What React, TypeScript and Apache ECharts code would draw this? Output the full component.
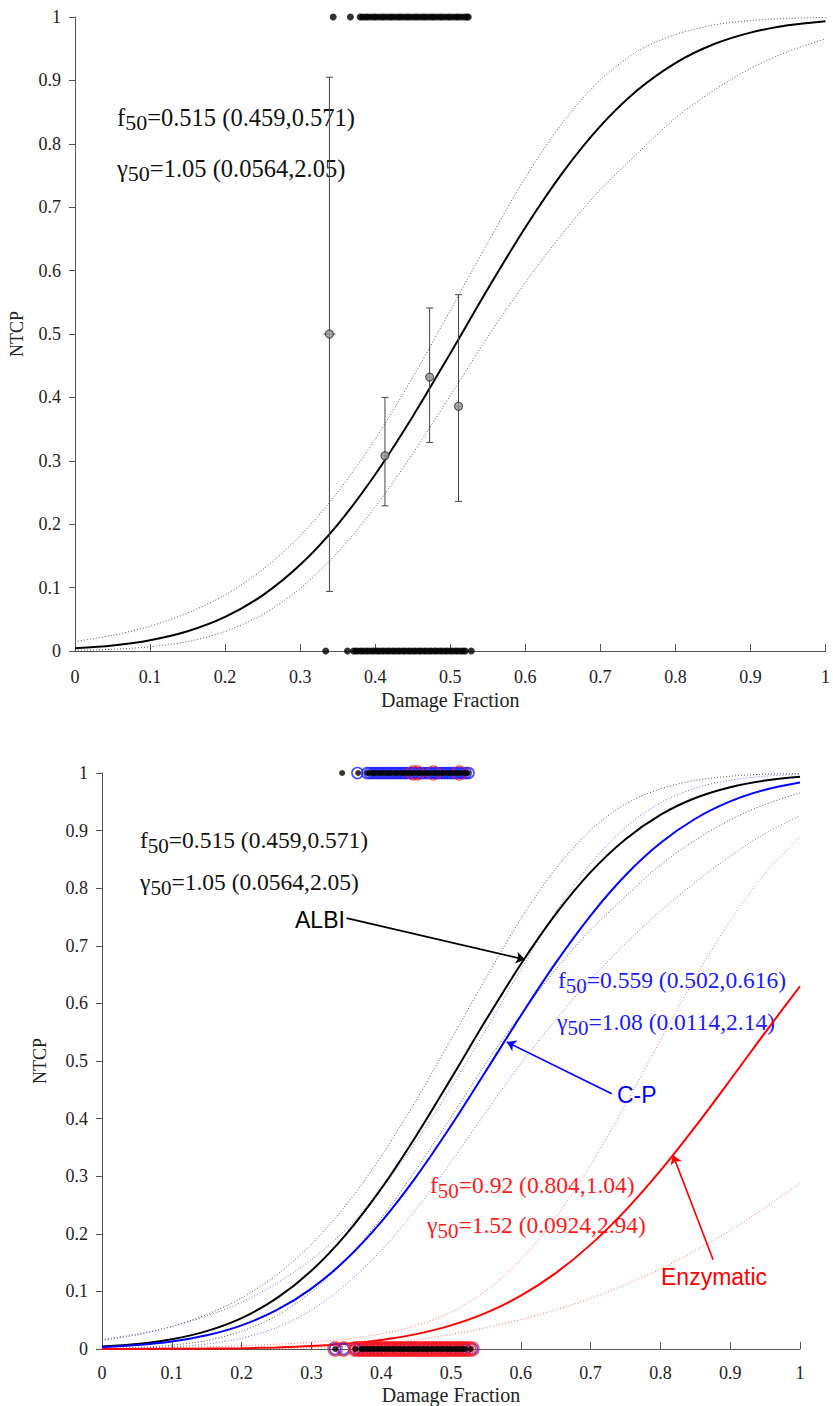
import React, { useEffect, useRef } from "react";
import * as echarts from "echarts";

// ---- data ----
const F_GRID = [0, 0.05, 0.1, 0.15, 0.2, 0.25, 0.3, 0.35, 0.4, 0.45, 0.5, 0.55, 0.6, 0.65, 0.7, 0.75, 0.8, 0.85, 0.9, 0.95, 1];

const ALBI_FIT = [0.0042, 0.0087, 0.017, 0.0311, 0.0537, 0.0878, 0.1359, 0.1995, 0.2784, 0.3699, 0.4694, 0.571, 0.668, 0.7549, 0.8278, 0.8851, 0.9274, 0.9566, 0.9754, 0.9869, 0.9934];
const ALBI_UPPER = [0.0149, 0.0246, 0.0391, 0.0599, 0.0885, 0.1283, 0.1817, 0.2504, 0.3344, 0.4316, 0.5372, 0.6439, 0.7468, 0.834, 0.9007, 0.9464, 0.9723, 0.9872, 0.9944, 0.9978, 0.9992];
const ALBI_LOWER = [0.001, 0.0027, 0.0066, 0.0148, 0.0308, 0.0577, 0.0987, 0.1555, 0.2273, 0.3113, 0.4026, 0.4956, 0.581, 0.6591, 0.7276, 0.7855, 0.8405, 0.8834, 0.9189, 0.9455, 0.9655];

const CP_FIT = [0.0034, 0.0069, 0.0131, 0.0238, 0.0411, 0.0673, 0.1049, 0.1557, 0.2207, 0.2988, 0.3875, 0.4826, 0.5787, 0.6703, 0.7526, 0.8225, 0.8784, 0.9206, 0.9507, 0.9709, 0.9836];
const CP_UPPER = [0.0167, 0.0259, 0.039, 0.057, 0.081, 0.1138, 0.1552, 0.2084, 0.2776, 0.3602, 0.4539, 0.5542, 0.6585, 0.7583, 0.842, 0.9057, 0.9481, 0.9738, 0.9875, 0.9944, 0.9976];
const CP_LOWER = [0.0005, 0.0014, 0.0037, 0.0086, 0.0188, 0.037, 0.0676, 0.1127, 0.1711, 0.2426, 0.3243, 0.4115, 0.4954, 0.5717, 0.6416, 0.7036, 0.7603, 0.8104, 0.8557, 0.895, 0.9259];

const ENZ_FIT = [0.0001, 0.0002, 0.0003, 0.0007, 0.0014, 0.0028, 0.0051, 0.0091, 0.0157, 0.0258, 0.041, 0.0627, 0.0926, 0.1318, 0.1812, 0.2407, 0.3096, 0.386, 0.467, 0.5494, 0.6298];
const ENZ_UPPER = [0.0011, 0.0016, 0.0025, 0.0037, 0.0056, 0.0082, 0.012, 0.0176, 0.0263, 0.0404, 0.0637, 0.1008, 0.155, 0.2281, 0.3195, 0.4247, 0.5359, 0.6451, 0.7435, 0.8257, 0.889];
const ENZ_LOWER = [0.0, 0.0, 0.0, 0.0001, 0.0003, 0.0008, 0.002, 0.0045, 0.0089, 0.0159, 0.0253, 0.037, 0.051, 0.068, 0.088, 0.1116, 0.1392, 0.1706, 0.2062, 0.2455, 0.2882];

// binned observed rates with error bars (top panel)
const BIN_X = [0.339, 0.413, 0.4725, 0.511];
const BIN_Y = [0.5, 0.308, 0.432, 0.386];
const BIN_LO = [0.094, 0.229, 0.329, 0.236];
const BIN_HI = [0.905, 0.4, 0.541, 0.562];
const BIN_XERR = [0.008, 0.004, 0.003, 0.003];

// individual patients (damage fraction), complication = 1 / no complication = 0
const ALBI_EVENT_X = [0.344, 0.367, 0.38, 0.383, 0.387, 0.39, 0.394, 0.398, 0.401, 0.405, 0.409, 0.412, 0.416, 0.42, 0.423, 0.427, 0.431, 0.434, 0.438, 0.442, 0.445, 0.449, 0.453, 0.456, 0.46, 0.464, 0.467, 0.471, 0.475, 0.478, 0.482, 0.486, 0.489, 0.493, 0.497, 0.5, 0.504, 0.508, 0.511, 0.515, 0.519, 0.522, 0.524];
const ALBI_NOEVENT_X = [0.334, 0.363, 0.371, 0.374, 0.377, 0.381, 0.384, 0.388, 0.391, 0.395, 0.398, 0.402, 0.405, 0.409, 0.412, 0.416, 0.419, 0.423, 0.426, 0.43, 0.433, 0.437, 0.44, 0.444, 0.447, 0.451, 0.454, 0.458, 0.461, 0.465, 0.468, 0.472, 0.475, 0.479, 0.482, 0.486, 0.489, 0.493, 0.496, 0.5, 0.503, 0.507, 0.51, 0.514, 0.517, 0.52, 0.528];
const CP_EVENT_X = [0.366, 0.38, 0.384, 0.388, 0.392, 0.396, 0.399, 0.403, 0.407, 0.411, 0.415, 0.419, 0.422, 0.426, 0.43, 0.434, 0.438, 0.442, 0.446, 0.449, 0.453, 0.457, 0.461, 0.465, 0.469, 0.473, 0.477, 0.481, 0.485, 0.489, 0.493, 0.497, 0.501, 0.505, 0.509, 0.513, 0.517, 0.521, 0.525];
const CP_NOEVENT_X = [0.334, 0.346, 0.363, 0.368, 0.373, 0.379, 0.384, 0.39, 0.395, 0.401, 0.406, 0.412, 0.417, 0.423, 0.428, 0.434, 0.439, 0.445, 0.45, 0.456, 0.461, 0.467, 0.472, 0.478, 0.483, 0.489, 0.494, 0.5, 0.505, 0.511, 0.516, 0.521, 0.53];
const ENZ_EVENT_X = [0.446, 0.452, 0.475, 0.512];
const ENZ_NOEVENT_X = [0.334, 0.346, 0.363, 0.366, 0.369, 0.372, 0.375, 0.378, 0.381, 0.384, 0.387, 0.39, 0.393, 0.396, 0.399, 0.402, 0.405, 0.408, 0.411, 0.414, 0.417, 0.42, 0.423, 0.426, 0.429, 0.432, 0.435, 0.438, 0.441, 0.444, 0.447, 0.45, 0.453, 0.456, 0.459, 0.462, 0.465, 0.468, 0.471, 0.474, 0.477, 0.48, 0.483, 0.486, 0.489, 0.492, 0.495, 0.498, 0.501, 0.504, 0.507, 0.51, 0.513, 0.516, 0.519, 0.522, 0.525, 0.53];

// arrows: [from, to] in data coordinates
const ALBI_ARROW = [[0.3504, 0.748], [0.606, 0.676]];
const CP_ARROW = [[0.7303, 0.443], [0.58, 0.533]];
const ENZ_ARROW = [[0.8755, 0.155], [0.818, 0.337]];

const SERIF = "'Liberation Serif', 'Times New Roman', serif";
const SANS = "'Liberation Sans', Arial, sans-serif";

const pairs = (xs: number[], ys: number[]) => xs.map((x, i) => [x, ys[i]]);
const row = (xs: number[], y: number) => xs.map((x) => [x, y]);

function axisPair(gridIndex: number, labelMargin: number, xNameGap: number, yNameGap: number) {
  const common = {
    min: 0,
    max: 1,
    interval: 0.1,
    splitLine: { show: false },
    axisLine: { show: true, lineStyle: { color: "#555", width: 1 } },
  };
  const fmt = (v: number) => String(Math.round(v * 10) / 10);
  return {
    x: {
      ...common,
      type: "value",
      gridIndex,
      name: "Damage Fraction",
      nameLocation: "middle",
      nameGap: xNameGap,
      nameTextStyle: { fontFamily: SERIF, fontSize: 20, color: "#222" },
      axisTick: { show: true, inside: true, length: 7, lineStyle: { color: "#555" } },
      axisLabel: { fontFamily: SERIF, fontSize: 18, color: "#222", margin: labelMargin, formatter: fmt },
    },
    y: {
      ...common,
      type: "value",
      gridIndex,
      name: "NTCP",
      nameLocation: "middle",
      nameGap: yNameGap,
      nameTextStyle: { fontFamily: SERIF, fontSize: 18, color: "#222" },
      axisTick: { show: true, inside: false, length: 6, lineStyle: { color: "#555" } },
      axisLabel: { fontFamily: SERIF, fontSize: 18, color: "#222", margin: 14, formatter: fmt },
    },
  };
}

function curve(name: string, data: number[], color: string, dotted: boolean, idx: number, extra: any = {}) {
  return {
    name,
    type: "line",
    xAxisIndex: idx,
    yAxisIndex: idx,
    data: pairs(F_GRID, data),
    smooth: 0.3,
    showSymbol: false,
    symbol: "none",
    lineStyle: dotted ? { color, width: 1, type: [1, 2] } : { color, width: 2 },
    z: dotted ? 2 : 3,
    ...extra,
  };
}

function arrow(seg: number[][], color: string) {
  return {
    silent: true,
    animation: false,
    symbol: ["none", "arrow"],
    symbolSize: 9,
    label: { show: false },
    lineStyle: { color, width: 1.6, type: "solid" },
    data: [[{ coord: seg[0] }, { coord: seg[1] }]],
  };
}

function dots(xs: number[], y: number, idx: number, opts: any) {
  return {
    type: "scatter",
    xAxisIndex: idx,
    yAxisIndex: idx,
    data: row(xs, y),
    clip: false,
    symbol: "circle",
    ...opts,
  };
}

function fitText(x: number, yCenter: number, sym: string, rest: string, color: string, size: number) {
  return {
    type: "text",
    x,
    y: yCenter - 16,
    style: {
      text: `{m|${sym}}{s|50}{m|${rest}}`,
      fill: color,
      align: "left",
      verticalAlign: "top",
      textAlign: "left",
      textVerticalAlign: "top",
      rich: {
        m: { fontFamily: SERIF, fontSize: size, lineHeight: 32, verticalAlign: "middle", fill: color, color },
        s: { fontFamily: SERIF, fontSize: size - 2.5, lineHeight: 12, verticalAlign: "bottom", fill: color, color },
      },
    },
  };
}

function labelText(x: number, yCenter: number, text: string, color: string) {
  return {
    type: "text",
    x,
    y: yCenter,
    style: {
      text,
      fill: color,
      fontFamily: SANS,
      fontSize: 23,
      align: "left",
      verticalAlign: "middle",
      textAlign: "left",
      textVerticalAlign: "middle",
    },
  };
}

export default function App() {
  const ref = useRef<HTMLDivElement>(null);

  useEffect(() => {
    if (!ref.current) return;
    const chart = echarts.init(ref.current, null, { renderer: "svg" });
    const a0 = axisPair(0, 17, 39, 49);
    const a1 = axisPair(1, 15, 36, 53);

    const errorBars = {
      type: "custom",
      xAxisIndex: 0,
      yAxisIndex: 0,
      data: BIN_X.map((x, i) => [x, BIN_Y[i], BIN_LO[i], BIN_HI[i], BIN_XERR[i]]),
      encode: { x: 0, y: 1 },
      z: 4,
      renderItem: (params: any, api: any) => {
        const x = api.value(0);
        const y = api.value(1);
        const lo = api.coord([x, api.value(2)]);
        const hi = api.coord([x, api.value(3)]);
        const l = api.coord([x - api.value(4), y]);
        const r = api.coord([x + api.value(4), y]);
        const cap = 3.5;
        const style = { stroke: "#444", lineWidth: 1 };
        return {
          type: "group",
          children: [
            { type: "line", shape: { x1: lo[0], y1: lo[1], x2: hi[0], y2: hi[1] }, style },
            { type: "line", shape: { x1: lo[0] - cap, y1: lo[1], x2: lo[0] + cap, y2: lo[1] }, style },
            { type: "line", shape: { x1: hi[0] - cap, y1: hi[1], x2: hi[0] + cap, y2: hi[1] }, style },
            { type: "line", shape: { x1: l[0], y1: l[1], x2: r[0], y2: r[1] }, style },
          ],
        };
      },
    };

    const option: any = {
      animation: false,
      backgroundColor: "#fff",
      grid: [
        { left: 73, top: 17, width: 758, height: 634 },
        { left: 102, top: 773, width: 698, height: 576 },
      ],
      xAxis: [a0.x, a1.x],
      yAxis: [a0.y, a1.y],
      series: [
        // top panel
        curve("ALBI upper", ALBI_UPPER, "#555", true, 0),
        curve("ALBI lower", ALBI_LOWER, "#555", true, 0),
        curve("ALBI", ALBI_FIT, "#000", false, 0),
        errorBars,
        {
          type: "scatter",
          xAxisIndex: 0,
          yAxisIndex: 0,
          data: pairs(BIN_X, BIN_Y),
          symbol: "circle",
          symbolSize: 8,
          z: 5,
          itemStyle: { color: "#9a9a9a", borderColor: "#333", borderWidth: 1.2 },
        },
        dots(ALBI_EVENT_X, 1, 0, { symbolSize: 7, itemStyle: { color: "#000" }, z: 6 }),
        dots(ALBI_NOEVENT_X, 0, 0, { symbolSize: 7, itemStyle: { color: "#000" }, z: 6 }),

        // bottom panel
        curve("ALBI upper 2", ALBI_UPPER, "#555", true, 1),
        curve("ALBI lower 2", ALBI_LOWER, "#555", true, 1),
        curve("C-P upper", CP_UPPER, "#6a6aff", true, 1),
        curve("C-P lower", CP_LOWER, "#6a6aff", true, 1),
        curve("Enz upper", ENZ_UPPER, "#ff6a6a", true, 1),
        curve("Enz lower", ENZ_LOWER, "#ff6a6a", true, 1),
        curve("ALBI 2", ALBI_FIT, "#000", false, 1, { markLine: arrow(ALBI_ARROW, "#000") }),
        curve("C-P", CP_FIT, "#0000ff", false, 1, { markLine: arrow(CP_ARROW, "#0000ff") }),
        curve("Enzymatic", ENZ_FIT, "#ff0000", false, 1, { markLine: arrow(ENZ_ARROW, "#ff0000") }),
        dots(CP_NOEVENT_X, 0, 1, { symbolSize: 11, itemStyle: { color: "rgba(0,0,0,0)", borderColor: "#2020ff", borderWidth: 1.5 }, z: 5 }),
        dots(CP_EVENT_X, 1, 1, { symbolSize: 11, itemStyle: { color: "rgba(0,0,0,0)", borderColor: "#2020ff", borderWidth: 1.6 }, z: 5 }),
        dots(ENZ_NOEVENT_X, 0, 1, { symbolSize: 14, itemStyle: { color: "rgba(0,0,0,0)", borderColor: "#ff1a1a", borderWidth: 1.4 }, z: 6 }),
        dots(ENZ_EVENT_X, 1, 1, { symbolSize: 14, itemStyle: { color: "rgba(0,0,0,0)", borderColor: "#ff1a1a", borderWidth: 1.2 }, z: 6 }),
        dots(ALBI_EVENT_X, 1, 1, { symbolSize: 6, itemStyle: { color: "#000" }, z: 8 }),
        dots(ALBI_NOEVENT_X, 0, 1, { symbolSize: 6, itemStyle: { color: "#000" }, z: 8 }),
      ],
      graphic: [
        fitText(117, 117, "f", "=0.515 (0.459,0.571)", "#111", 24.5),
        fitText(117, 168, "γ", "=1.05 (0.0564,2.05)", "#111", 24.5),
        fitText(140, 840, "f", "=0.515 (0.459,0.571)", "#111", 23.5),
        fitText(140, 882, "γ", "=1.05 (0.0564,2.05)", "#111", 23.5),
        fitText(558, 980, "f", "=0.559 (0.502,0.616)", "#1a1aff", 23.5),
        fitText(557, 1022, "γ", "=1.08 (0.0114,2.14)", "#1a1aff", 23.5),
        fitText(430, 1185, "f", "=0.92 (0.804,1.04)", "#ff1a1a", 23.5),
        fitText(427, 1225, "γ", "=1.52 (0.0924,2.94)", "#ff1a1a", 23.5),
        labelText(295, 920, "ALBI", "#000"),
        labelText(617, 1095, "C-P", "#0000ff"),
        labelText(661, 1277, "Enzymatic", "#ff0000"),
      ],
    };
    chart.setOption(option);
    return () => chart.dispose();
  }, []);

  return <div ref={ref} style={{ position: "absolute", left: 0, top: 0, width: 833, height: 1406 }} />;
}
